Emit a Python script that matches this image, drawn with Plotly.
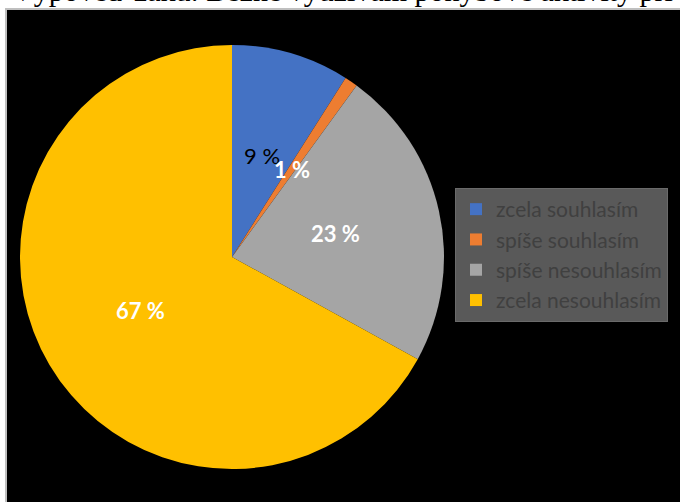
import math
import plotly.graph_objects as go

categories = ["zcela souhlasím", "spíše souhlasím", "spíše nesouhlasím", "zcela nesouhlasím"]
values = [9, 1, 23, 67]
label_texts = ["9 %", "1 %", "23 %", "67 %"]
colors = ["#4472C4", "#ED7D31", "#A5A5A5", "#FFC000"]
label_colors = ["black", "white", "white", "white"]
label_weights = ["normal", "bold", "bold", "bold"]
title_text = "Výpověď žáků: Běžně využívám pohybové aktivity při"

W, H = 680, 502
cx_px, cy_px, r_px = 232, 257, 212
dom_x = [(cx_px - r_px) / W, (cx_px + r_px) / W]
dom_y = [(H - cy_px - r_px) / H, (H - cy_px + r_px) / H]

fig = go.Figure(go.Pie(
    labels=categories,
    values=values,
    sort=False,
    direction="clockwise",
    rotation=0,
    marker=dict(colors=colors, line=dict(width=0)),
    textinfo="none",
    hoverinfo="label+percent",
    domain=dict(x=dom_x, y=dom_y),
))

# label annotations at half radius, mid-angle of each slice
total = sum(values)
cum = 0
pcx = (dom_x[0] + dom_x[1]) / 2
pcy = (dom_y[0] + dom_y[1]) / 2
rx = (dom_x[1] - dom_x[0]) / 2
ry = (dom_y[1] - dom_y[0]) / 2
for v, t, c, w in zip(values, label_texts, label_colors, label_weights):
    mid = (cum + v / 2) / total * 2 * math.pi
    cum += v
    fig.add_annotation(
        x=pcx + 0.5 * rx * math.sin(mid),
        y=pcy + 0.5 * ry * math.cos(mid),
        xref="paper", yref="paper",
        xanchor="center", yanchor="middle",
        text=t, showarrow=False,
        font=dict(family="Lato", size=22, color=c, weight=w),
    )

fig.add_annotation(
    x=10 / W, y=1, xref="paper", yref="paper",
    xanchor="left", yanchor="middle", yshift=9.5,
    text=title_text, showarrow=False,
    font=dict(family="Liberation Serif", size=30, color="black"),
)

fig.add_shape(
    type="rect", xref="paper", yref="paper",
    x0=6 / W, x1=1.01, y0=-0.01, y1=(H - 9) / H,
    fillcolor="black", line=dict(color="#BFBFBF", width=2), layer="below",
)

fig.update_layout(
    width=W, height=H,
    margin=dict(l=0, r=0, t=0, b=0),
    paper_bgcolor="white",
    showlegend=True,
    legend=dict(
        x=455 / W, y=(H - 188) / H, xanchor="left", yanchor="top",
        bgcolor="#595959", bordercolor="#6A6A6A", borderwidth=1,
        font=dict(family="Lato", size=21, color="#404040"),
        itemsizing="constant",
    ),
)

fig.write_html("out.html")
